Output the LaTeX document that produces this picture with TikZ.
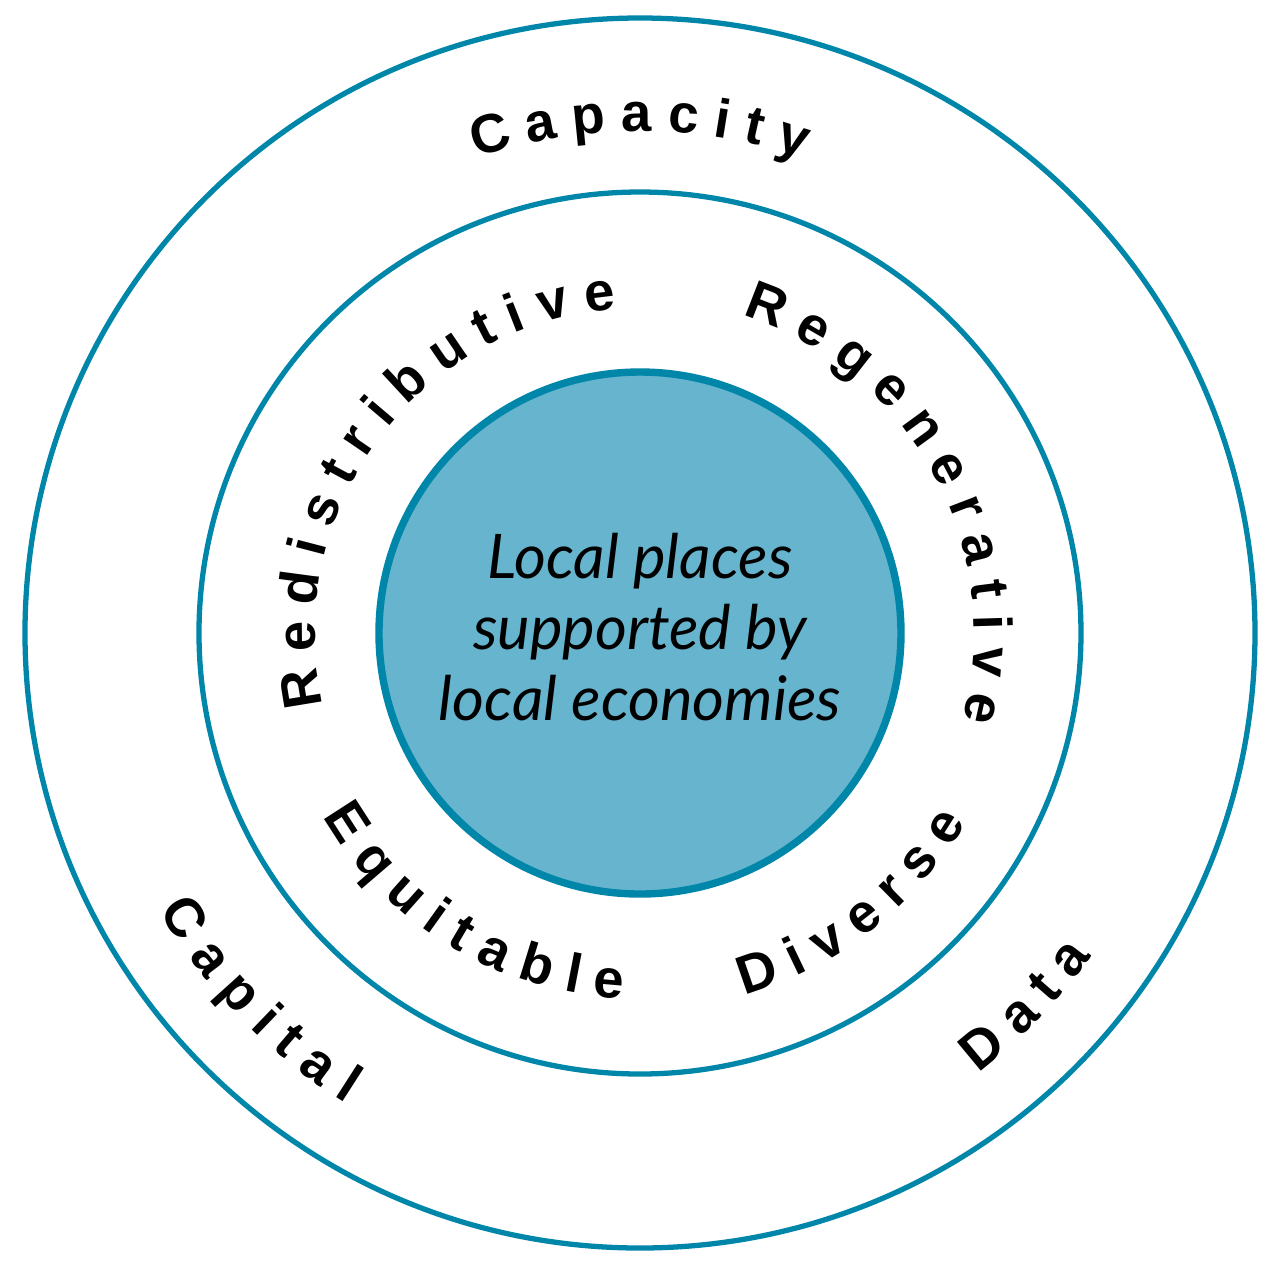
\documentclass[tikz,border=0pt]{standalone}
\usepackage{fontspec}
\newfontfamily\lblfont{Liberation Sans}
\newfontfamily\corefont{Lato}
\usetikzlibrary{decorations.text}
\definecolor{ringblue}{RGB}{0,134,168}
\definecolor{corefill}{RGB}{102,180,205}

\begin{document}
\begin{tikzpicture}[
  ring/.style={circle, draw=ringblue, line width=1.5pt, inner sep=0pt, outer sep=0pt},
  core/.style={ring, fill=corefill, line width=2.1pt},
  arclabel/.style={decorate, decoration={text along path, text align=center,
    text={|\lblfont\bfseries\fontsize{15.5}{18}\selectfont|#1}}}]
\useasboundingbox (-6.40,-6.27) rectangle (6.41,6.33);
\node[ring, minimum size=12.3cm] (outer) at (0,0) {};
\node[ring, minimum size=8.82cm] (middle) at (0,0) {};
\node[core, minimum size=5.22cm] (core) at (0,0) {};
\node[font=\corefont\itshape\fontsize{17.5}{20.2}\selectfont, align=center] (focus)
  at ([yshift=0.06cm]core.center) {Local places\\supported by\\local economies};
% outer ring
\path[arclabel={C a p a c i t y}] (170:5.02) arc[start angle=170, end angle=10, radius=5.02];
\path[arclabel={C a p i t a l}] (144:5.55) arc[start angle=144, end angle=304, radius=5.55];
\path[arclabel={D a t a}] (236:5.55) arc[start angle=236, end angle=396, radius=5.55];
% middle ring
\path[arclabel={R e d i s t r i b u t i v e}] (223.5:3.25) arc[start angle=223.5, end angle=63.5, radius=3.25];
\path[arclabel={R e g e n e r a t i v e}] (108.5:3.34) arc[start angle=108.5, end angle=-51.5, radius=3.34];
\path[arclabel={E q u i t a b l e}] (158.7:3.66) arc[start angle=158.7, end angle=318.7, radius=3.66];
\path[arclabel={D i v e r s e}] (228:3.77) arc[start angle=228, end angle=388, radius=3.77];
\end{tikzpicture}
\end{document}
